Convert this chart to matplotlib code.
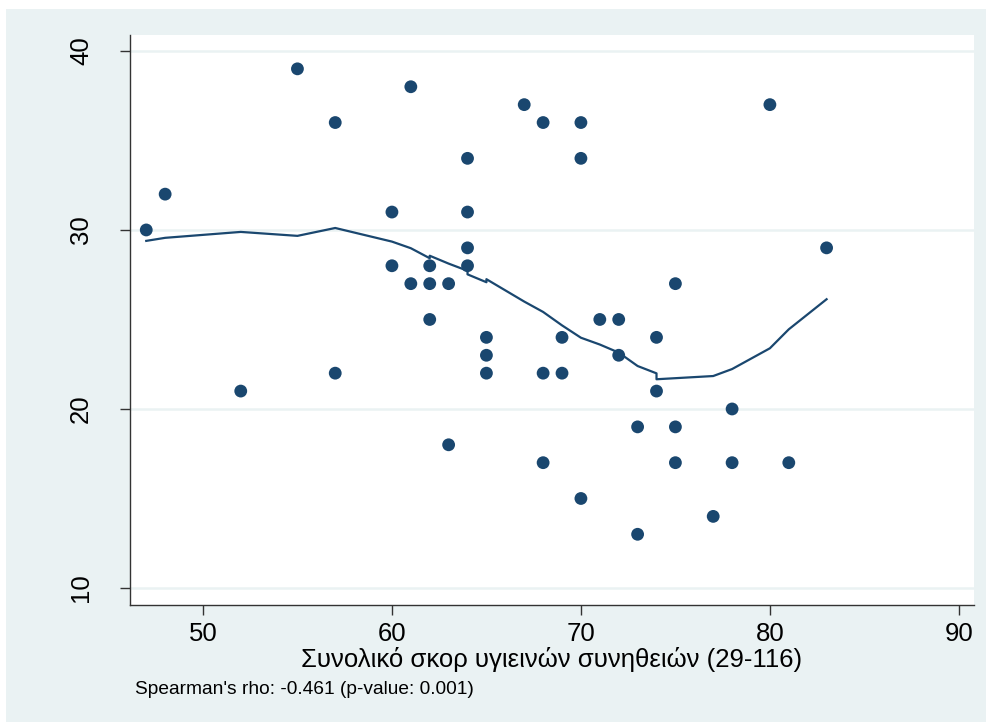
import matplotlib.pyplot as plt
from matplotlib.patches import Rectangle

navy = "#1a476f"
bgColor = "#eaf2f3"

# Scatter points: total hygiene score vs outcome
score = [47, 48, 52, 55, 57, 57, 60, 60, 61, 61, 62, 62, 62, 63, 63,
         64, 64, 64, 64, 65, 65, 65, 67, 68, 68, 68, 69, 69, 70, 70, 70,
         71, 72, 72, 73, 73, 74, 74, 75, 75, 75, 77, 78, 78, 80, 81, 83]
value = [30, 32, 21, 39, 36, 22, 31, 28, 38, 27, 28, 27, 25, 27, 18,
         34, 31, 29, 28, 24, 23, 22, 37, 36, 22, 17, 24, 22, 36, 34, 15,
         25, 25, 23, 19, 13, 24, 21, 27, 19, 17, 14, 20, 17, 37, 17, 29]

# Lowess smoother
lowess_x = [47, 48, 52, 55, 57, 60, 61, 62, 62, 63, 64, 64, 65, 65, 67,
            68, 69, 70, 71, 72, 73, 74, 74, 75, 77, 78, 80, 81, 83]
lowess_y = [29.39, 29.56, 29.89, 29.67, 30.11, 29.35, 28.98, 28.42, 28.56,
            28.12, 27.72, 27.52, 27.08, 27.25, 26.0, 25.42, 24.67, 23.98,
            23.6, 23.15, 22.4, 21.99, 21.66, 21.72, 21.84, 22.23, 23.39,
            24.45, 26.13]

xticks = [50, 60, 70, 80, 90]
yticks = [10, 20, 30, 40]

plt.rcParams['font.family'] = ['Liberation Sans', 'DejaVu Sans']

fig = plt.figure(figsize=(9.87, 7.22), dpi=100, facecolor='white')
fig.patches.append(Rectangle((6 / 987, 0), 1, 713 / 722, transform=fig.transFigure,
                             facecolor=bgColor, edgecolor='none', zorder=-10))

ax = fig.add_axes([130 / 987, 1 - 605 / 722, 844 / 987, 570 / 722])
ax.set_facecolor('white')
ax.set_axisbelow(True)

ax.scatter(score, value, s=85, color=navy, edgecolors='none', zorder=3)
ax.plot(lowess_x, lowess_y, color=navy, lw=1.6, zorder=4)

ax.set_xlim(46.14, 90.8)
ax.set_ylim(9.05, 40.89)
ax.set_xticks(xticks)
ax.set_yticks(yticks)
ax.set_yticklabels([str(t) for t in yticks], rotation=90, va='center')
ax.tick_params(axis='both', direction='out', length=7, width=1, color='#333333',
               labelsize=18.5, pad=5)
ax.tick_params(axis='y', pad=19.5)

ax.grid(axis='y', color=bgColor, lw=1.8)
ax.grid(axis='x', visible=False)

for side in ('top', 'right'):
    ax.spines[side].set_visible(False)
for side in ('left', 'bottom'):
    ax.spines[side].set_color('#333333')
    ax.spines[side].set_linewidth(1)

ax.set_xlabel('Συνολικό σκορ υγιεινών συνηθειών (29-116)', fontsize=18.5, labelpad=1)

fig.text(135 / 987, 1 - 690 / 722, "Spearman's rho: -0.461 (p-value: 0.001)",
         fontsize=13.8, va='center', ha='left')

fig.savefig('out.png', dpi=100, facecolor=fig.get_facecolor())
